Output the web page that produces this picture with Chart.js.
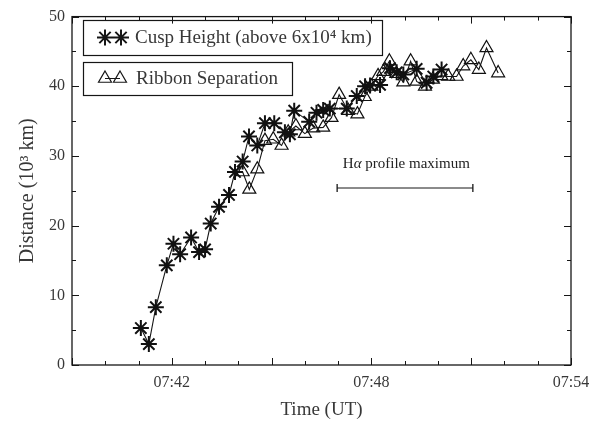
<!DOCTYPE html>
<html>
<head>
<meta charset="utf-8">
<script src="https://cdn.jsdelivr.net/npm/chart.js@4.4.1/dist/chart.umd.min.js"></script>
<style>
  html, body { margin: 0; padding: 0; background: #fff; }
</style>
</head>
<body>
<canvas id="myChart" width="600" height="426"></canvas>
<script>
// time is in minutes after 07:00 UT, distance in 10^3 km
const cuspTimes = [41.07, 41.31, 41.52, 41.85, 42.05, 42.25, 42.58, 42.82, 43.0, 43.17, 43.42,
  43.72, 43.9, 44.13, 44.32, 44.57, 44.8, 45.08, 45.4, 45.55, 45.68, 46.13, 46.35, 46.55,
  46.75, 47.26, 47.56, 47.81, 47.96, 48.26, 48.56, 48.76, 48.96, 49.36, 49.66, 49.86, 50.11];
const cuspHeight = [5.3, 3.0, 8.3, 14.3, 17.4, 15.9, 18.3, 16.2, 16.6, 20.3, 22.7,
  24.4, 27.7, 29.2, 32.8, 31.5, 34.7, 34.7, 33.4, 33.1, 36.5, 34.9, 36.2, 36.6,
  36.8, 36.8, 38.6, 40.0, 40.1, 40.2, 42.6, 42.0, 41.7, 42.5, 40.5, 41.4, 42.4];

const ribbonTimes = [44.13, 44.33, 44.57, 44.8, 45.05, 45.3, 45.5, 45.73, 46.0, 46.25, 46.55,
  46.8, 47.03, 47.3, 47.58, 47.8, 48.0, 48.2, 48.36, 48.54, 48.75, 48.96, 49.18, 49.36,
  49.61, 49.85, 50.1, 50.31, 50.56, 50.76, 50.99, 51.23, 51.46, 51.81];
const ribbonSep = [27.7, 25.2, 28.1, 32.2, 32.4, 31.5, 33.4, 34.3, 33.2, 34.0, 34.1,
  35.5, 38.8, 36.5, 36.0, 38.5, 40.0, 41.5, 42.1, 43.6, 41.8, 40.6, 43.6, 40.7,
  40.0, 41.0, 41.5, 41.4, 41.4, 42.9, 43.8, 42.4, 45.5, 41.9];

// H-alpha profile maximum interval
const profileTimes = [46.97, 51.05];
const profileLevel = [25.4, 25.4];

const xTickLabels = { 42: '07:42', 48: '07:48', 54: '07:54' };
const yTickLabels = [0, 10, 20, 30, 40, 50];

const serif = "'Liberation Serif', 'DejaVu Serif', serif";
const ink = '#161616';
const textGrey = '#383838';

const toPoints = (xs, ys) => xs.map((t, i) => ({ x: t, y: ys[i] }));

// box frame, inward ticks on all sides, boxed legend and the annotation
const decorations = {
  id: 'decorations',
  afterDraw(chart) {
    const { ctx, chartArea: a, scales: { x, y } } = chart;
    ctx.save();
    ctx.strokeStyle = ink;
    ctx.lineWidth = 1.3;
    ctx.strokeRect(a.left, a.top, a.right - a.left, a.bottom - a.top);

    ctx.lineWidth = 1;
    ctx.beginPath();
    for (let m = 39; m <= 54; m++) {
      const px = Math.round(x.getPixelForValue(m)) + 0.5;
      const len = m % 3 === 0 ? 7 : 4;
      ctx.moveTo(px, a.bottom); ctx.lineTo(px, a.bottom - len);
      ctx.moveTo(px, a.top); ctx.lineTo(px, a.top + len);
    }
    for (let v = 0; v <= 50; v += 5) {
      const py = Math.round(y.getPixelForValue(v)) + 0.5;
      const len = v % 10 === 0 ? 7 : 4;
      ctx.moveTo(a.left, py); ctx.lineTo(a.left + len, py);
      ctx.moveTo(a.right, py); ctx.lineTo(a.right - len, py);
    }
    ctx.stroke();

    // legend boxes
    const sets = chart.data.datasets;
    const rows = [
      { ds: sets[0], box: [83, 20, 299, 35], marks: [105, 121], text: 135 },
      { ds: sets[1], box: [83, 62, 209, 33], marks: [105, 120], text: 136 }
    ];
    ctx.font = '19px ' + serif;
    ctx.textBaseline = 'middle';
    rows.forEach(r => {
      const [bx, by, bw, bh] = r.box;
      const cy = by + bh / 2;
      ctx.lineWidth = 1.2;
      ctx.strokeStyle = ink;
      ctx.strokeRect(bx + 0.5, by + 0.5, bw, bh);
      ctx.beginPath();
      ctx.moveTo(r.marks[0], cy); ctx.lineTo(r.marks[1], cy);
      ctx.lineWidth = 1;
      ctx.stroke();
      ctx.fillStyle = 'rgba(255,255,255,0)';
      ctx.lineWidth = r.ds.pointBorderWidth;
      r.marks.forEach(mx => {
        Chart.helpers.drawPoint(ctx, {
          pointStyle: r.ds.pointStyle, radius: r.ds.pointRadius,
          borderWidth: r.ds.pointBorderWidth, rotation: 0
        }, mx, cy);
      });
      ctx.fillStyle = textGrey;
      ctx.fillText(r.ds.label, r.text, cy + 1);
    });

    // "Hα profile maximum"
    const parts = [['H', '15px ' + serif], ['\u03b1', 'italic 15px ' + serif], [' profile maximum', '15px ' + serif]];
    const widths = parts.map(p => { ctx.font = p[1]; return ctx.measureText(p[0]).width; });
    let tx = x.getPixelForValue(49.05) - widths.reduce((s, w) => s + w, 0) / 2;
    const ty = y.getPixelForValue(28.8);
    ctx.fillStyle = '#222';
    parts.forEach((p, i) => {
      ctx.font = p[1];
      ctx.fillText(p[0], tx, ty);
      tx += widths[i];
    });
    ctx.restore();
  }
};

new Chart(document.getElementById('myChart'), {
  type: 'scatter',
  data: {
    datasets: [
      {
        label: 'Cusp Height (above 6x10\u2074 km)',
        data: toPoints(cuspTimes, cuspHeight),
        showLine: true,
        borderColor: ink,
        borderWidth: 1.1,
        pointStyle: 'star',
        pointRadius: 8,
        pointBorderWidth: 2,
        pointBorderColor: '#111',
        pointBackgroundColor: 'rgba(0,0,0,0)'
      },
      {
        label: 'Ribbon Separation',
        data: toPoints(ribbonTimes, ribbonSep),
        showLine: true,
        borderColor: ink,
        borderWidth: 1.1,
        pointStyle: 'triangle',
        pointRadius: 7.5,
        pointBorderWidth: 1.2,
        pointBorderColor: '#111',
        pointBackgroundColor: 'rgba(255,255,255,0)'
      },
      {
        label: 'H-alpha profile maximum',
        data: toPoints(profileTimes, profileLevel),
        showLine: true,
        borderColor: ink,
        borderWidth: 1,
        pointStyle: 'line',
        rotation: 90,
        pointRadius: 4,
        pointBorderWidth: 1.3,
        pointBorderColor: ink
      }
    ]
  },
  options: {
    responsive: false,
    animation: false,
    layout: { padding: { top: 13, right: 29, left: 0, bottom: 0 } },
    plugins: {
      legend: { display: false },
      tooltip: { enabled: false }
    },
    scales: {
      x: {
        type: 'linear',
        min: 39,
        max: 54,
        afterFit: s => { s.height = 61; },
        grid: { display: false, drawTicks: false },
        border: { display: false },
        ticks: {
          stepSize: 1,
          autoSkip: false,
          maxRotation: 0,
          padding: 8,
          color: textGrey,
          font: { family: serif, size: 16 },
          callback: v => xTickLabels[v] || ''
        },
        title: {
          display: true,
          text: 'Time (UT)',
          color: textGrey,
          font: { family: serif, size: 19 },
          padding: { top: 0, bottom: 5 }
        }
      },
      y: {
        min: 0,
        max: 50,
        afterFit: s => { s.width = 72; },
        grid: { display: false, drawTicks: false },
        border: { display: false },
        ticks: {
          stepSize: 5,
          autoSkip: false,
          padding: 7,
          color: textGrey,
          font: { family: serif, size: 16 },
          callback: v => yTickLabels.includes(v) ? String(v) : ''
        },
        title: {
          display: true,
          text: 'Distance (10\u00b3 km)',
          color: textGrey,
          font: { family: serif, size: 20 },
          padding: { top: 16, bottom: 0 }
        }
      }
    }
  },
  plugins: [decorations]
});
</script>
</body>
</html>
